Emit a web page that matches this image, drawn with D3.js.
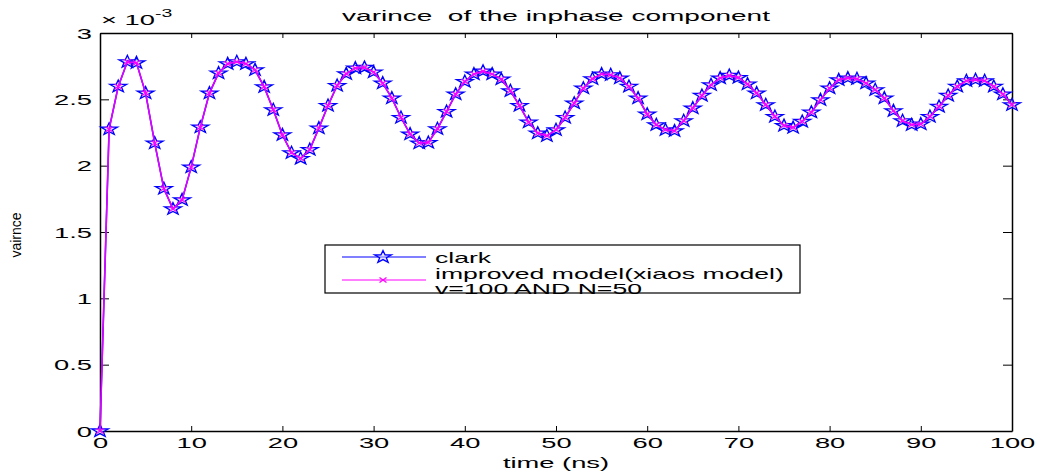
<!DOCTYPE html>
<html>
<head>
<meta charset="utf-8">
<script src="https://cdn.jsdelivr.net/npm/d3@7"></script>
<style>
  body { margin: 0; background: #fff; }
  text { font-family: "Liberation Sans", Arial, Helvetica, sans-serif; fill: #000; }
</style>
</head>
<body>
<script>
// time axis (ns), one sample per ns
var times = d3.range(0, 101);

// variance x 1e-3
var clarkValues = [
  0, 2.275, 2.597, 2.783, 2.775, 2.547, 2.170, 1.827, 1.674, 1.742,
  1.989, 2.290, 2.547, 2.698, 2.768, 2.783, 2.768, 2.722, 2.594, 2.421,
  2.232, 2.097, 2.054, 2.121, 2.283, 2.453, 2.604, 2.692, 2.735, 2.740,
  2.705, 2.622, 2.509, 2.363, 2.238, 2.170, 2.174, 2.278, 2.408, 2.539,
  2.634, 2.690, 2.712, 2.690, 2.652, 2.564, 2.453, 2.328, 2.245, 2.225,
  2.270, 2.363, 2.471, 2.584, 2.655, 2.690, 2.685, 2.660, 2.597, 2.509,
  2.388, 2.308, 2.270, 2.262, 2.338, 2.434, 2.529, 2.609, 2.660, 2.680,
  2.664, 2.615, 2.547, 2.459, 2.370, 2.302, 2.287, 2.333, 2.403, 2.496,
  2.584, 2.647, 2.660, 2.655, 2.622, 2.572, 2.509, 2.413, 2.338, 2.308,
  2.313, 2.370, 2.446, 2.529, 2.597, 2.640, 2.647, 2.640, 2.597, 2.539,
  2.459
];
// the improved model lies on top of clark everywhere
var improvedValues = [
  0, 2.275, 2.597, 2.783, 2.775, 2.547, 2.170, 1.827, 1.674, 1.742,
  1.989, 2.290, 2.547, 2.698, 2.768, 2.783, 2.768, 2.722, 2.594, 2.421,
  2.232, 2.097, 2.054, 2.121, 2.283, 2.453, 2.604, 2.692, 2.735, 2.740,
  2.705, 2.622, 2.509, 2.363, 2.238, 2.170, 2.174, 2.278, 2.408, 2.539,
  2.634, 2.690, 2.712, 2.690, 2.652, 2.564, 2.453, 2.328, 2.245, 2.225,
  2.270, 2.363, 2.471, 2.584, 2.655, 2.690, 2.685, 2.660, 2.597, 2.509,
  2.388, 2.308, 2.270, 2.262, 2.338, 2.434, 2.529, 2.609, 2.660, 2.680,
  2.664, 2.615, 2.547, 2.459, 2.370, 2.302, 2.287, 2.333, 2.403, 2.496,
  2.584, 2.647, 2.660, 2.655, 2.622, 2.572, 2.509, 2.413, 2.338, 2.308,
  2.313, 2.370, 2.446, 2.529, 2.597, 2.640, 2.647, 2.640, 2.597, 2.539,
  2.459
];

var xTicks = [0, 10, 20, 30, 40, 50, 60, 70, 80, 90, 100];
var yTicks = [0, 0.5, 1, 1.5, 2, 2.5, 3];
var legendLabels = ["clark", "improved model(xiaos model)", "v=100 AND N=50"];

var width = 1044, height = 474;
var plotLeft = 100, plotRight = 1012, plotTop = 33, plotBottom = 431;
var stretch = 1.95; // text in the picture is squashed wide

var svg = d3.select("body").append("svg")
    .attr("width", width)
    .attr("height", height);

var x = d3.scaleLinear().domain([0, 100]).range([plotLeft, plotRight]);
var y = d3.scaleLinear().domain([0, 3]).range([plotBottom, plotTop]);

// axes, ticks point inward
var xAxis = svg.append("g")
    .attr("transform", "translate(0," + plotBottom + ")")
    .call(d3.axisBottom(x).tickValues(xTicks).tickSize(-5).tickSizeOuter(0).tickPadding(0));
xAxis.selectAll("text")
    .attr("y", 17)
    .attr("dy", null)
    .attr("font-size", 14)
    .attr("transform", "scale(" + stretch + ",1)");

var yAxis = svg.append("g")
    .attr("transform", "translate(" + plotLeft + ",0)")
    .call(d3.axisLeft(y).tickValues(yTicks).tickSize(-9).tickSizeOuter(0)
        .tickFormat(function(d) { return String(d); }));
yAxis.selectAll("text")
    .attr("x", -8 / stretch)
    .attr("dy", "0.36em")
    .attr("font-size", 14)
    .attr("transform", "scale(" + stretch + ",1)");

svg.append("g")
    .attr("transform", "translate(0," + plotTop + ")")
    .call(d3.axisTop(x).tickValues(xTicks).tickSize(-5).tickSizeOuter(0).tickFormat(""));
svg.append("g")
    .attr("transform", "translate(" + plotRight + ",0)")
    .call(d3.axisRight(y).tickValues(yTicks).tickSize(-9).tickSizeOuter(0).tickFormat(""));

svg.selectAll(".domain").attr("stroke", "#000").attr("stroke-width", 1.5);
svg.selectAll(".tick line").attr("stroke", "#000").attr("stroke-width", 1);
svg.selectAll(".tick text").attr("font-family", "Liberation Sans, Arial, sans-serif");

// star and cross markers
function starPath(r) {
  var pts = [];
  for (var i = 0; i < 10; i++) {
    var a = -Math.PI / 2 + i * Math.PI / 5;
    var rr = i % 2 === 0 ? r : r * 0.4;
    pts.push([rr * Math.cos(a) * 1.35, rr * Math.sin(a)]);
  }
  return "M" + pts.map(function(p) { return p[0].toFixed(2) + "," + p[1].toFixed(2); }).join("L") + "Z";
}
var star = starPath(6.5);
var cross = "M-3.5,-2.5L3.5,2.5M-3.5,2.5L3.5,-2.5";

var line = d3.line()
    .x(function(d) { return x(d[0]); })
    .y(function(d) { return y(d[1]); });

var clark = times.map(function(t, i) { return [t, clarkValues[i]]; });
var improved = times.map(function(t, i) { return [t, improvedValues[i]]; });

svg.append("path")
    .datum(clark)
    .attr("d", line)
    .attr("fill", "none")
    .attr("stroke", "#0000ff")
    .attr("stroke-width", 1.5);

svg.selectAll(".star")
    .data(clark)
    .enter()
    .append("path")
    .attr("class", "star")
    .attr("transform", function(d) { return "translate(" + x(d[0]) + "," + y(d[1]) + ")"; })
    .attr("d", star)
    .attr("fill", "#ccccff")
    .attr("fill-opacity", 0.5)
    .attr("stroke", "#0000ff")
    .attr("stroke-width", 1.3);

svg.append("path")
    .datum(improved)
    .attr("d", line)
    .attr("fill", "none")
    .attr("stroke", "#e600ff")
    .attr("stroke-width", 1.6);

svg.selectAll(".cross")
    .data(improved)
    .enter()
    .append("path")
    .attr("class", "cross")
    .attr("transform", function(d) { return "translate(" + x(d[0]) + "," + y(d[1]) + ")"; })
    .attr("d", cross)
    .attr("fill", "none")
    .attr("stroke", "#ff00ff")
    .attr("stroke-width", 1.2);

// titles
svg.append("text")
    .attr("transform", "translate(556,21) scale(2,1)")
    .attr("text-anchor", "middle")
    .attr("font-size", 14)
    .attr("xml:space", "preserve")
    .text("varince  of the inphase component");

svg.append("text")
    .attr("transform", "translate(556,468) scale(" + stretch + ",1)")
    .attr("text-anchor", "middle")
    .attr("font-size", 14)
    .text("time (ns)");

svg.append("text")
    .attr("transform", "translate(21,235) rotate(-90)")
    .attr("text-anchor", "middle")
    .attr("font-size", 14)
    .text("vairnce");

var expo = svg.append("text")
    .attr("transform", "translate(101,25) scale(" + stretch + ",1)")
    .attr("font-size", 14);
expo.append("tspan").text("\u00d7 10");
expo.append("tspan").attr("dy", -8).attr("font-size", 10).text("-3");

// legend
var legend = svg.append("g");
legend.append("rect")
    .attr("x", 325).attr("y", 245)
    .attr("width", 475).attr("height", 48)
    .attr("fill", "#fff")
    .attr("stroke", "#000")
    .attr("stroke-width", 1.2);

legend.append("line")
    .attr("x1", 342).attr("x2", 426).attr("y1", 257).attr("y2", 257)
    .attr("stroke", "#0000ff").attr("stroke-width", 1);
legend.append("path")
    .attr("transform", "translate(383,257)")
    .attr("d", star)
    .attr("fill", "#ccccff").attr("fill-opacity", 0.5)
    .attr("stroke", "#0000ff").attr("stroke-width", 1.3);

legend.append("line")
    .attr("x1", 342).attr("x2", 426).attr("y1", 280).attr("y2", 280)
    .attr("stroke", "#ff00ff").attr("stroke-width", 1);
legend.append("path")
    .attr("transform", "translate(383,280)")
    .attr("d", cross)
    .attr("fill", "none")
    .attr("stroke", "#ff00ff").attr("stroke-width", 1.2);

legend.selectAll(".lbl")
    .data(legendLabels)
    .enter()
    .append("text")
    .attr("class", "lbl")
    .attr("transform", function(d, i) {
        return "translate(435," + (263 + i * 15.5) + ") scale(1.9,1)";
    })
    .attr("font-size", 14)
    .text(function(d) { return d; });
</script>
</body>
</html>
